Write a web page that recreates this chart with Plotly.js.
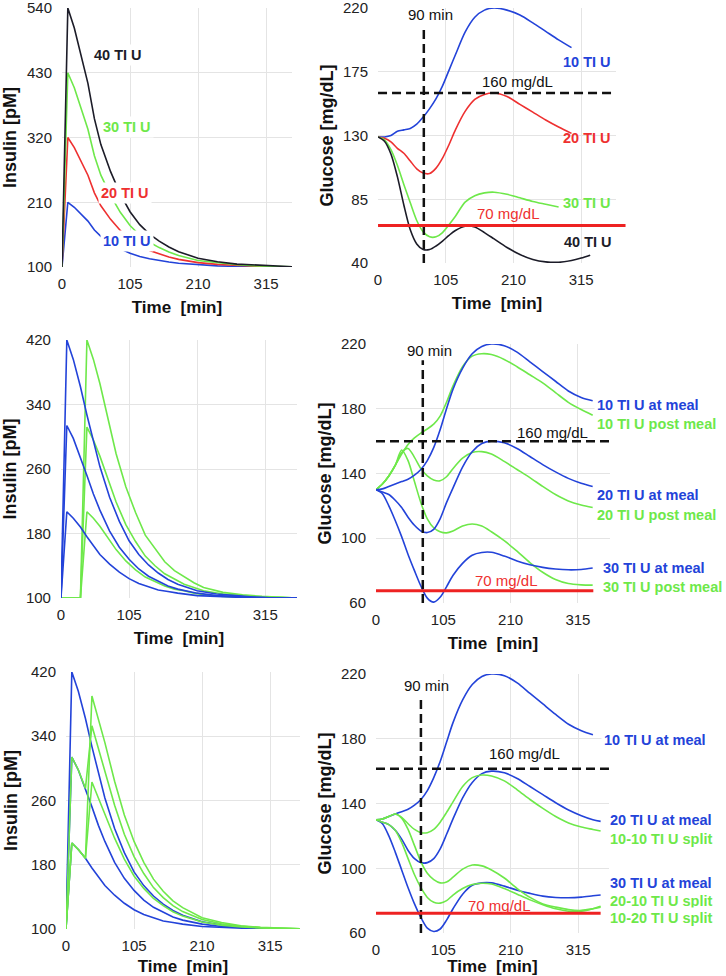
<!DOCTYPE html>
<html>
<head>
<meta charset="utf-8">
<script src="https://cdn.plot.ly/plotly-3.0.1.min.js"></script>
<style>
  html, body { margin: 0; padding: 0; background: #fff; }
  #chart { width: 726px; height: 976px; }
</style>
</head>
<body>
<div id="chart"></div>
<script>
// ---- insulin time grids (min)
var tIns = [0, 9, 19, 30, 40, 50, 60, 75, 90, 105, 120, 135, 150, 165, 180, 210, 240, 270, 300, 330, 365];
var tInsPost = [0, 30, 40, 50, 60, 70, 85, 100, 115, 130, 145, 160, 175, 190, 205, 220, 250, 280, 310, 340, 365];

// row 1 insulin [pM]
var ins10 = [100, 210, 201.5, 189.5, 178, 163, 152, 140.5, 131, 123.5, 118, 114, 111, 108.5, 106.5, 104, 102, 101, 100.5, 100, 100];
var ins20 = [100, 320, 303, 279, 256, 226, 204, 181, 162, 147, 136, 128, 122, 117, 113, 107.5, 104.5, 102.5, 101.5, 100.5, 100];
var ins30 = [100, 430, 404.5, 368.5, 334, 289, 256, 221.5, 193, 170.5, 154, 142, 133, 125.5, 119.5, 111, 107, 104, 102, 101, 100];
var ins40 = [100, 540, 506, 458, 412, 352, 308, 262, 224, 194, 172, 156, 144, 134, 126, 115, 109, 105, 103, 101, 100];

// rows 2-3 insulin, dose at meal
var meal10Ins = [100, 207, 199, 188, 176, 165, 154, 142, 132, 124, 118, 114, 110, 108, 106, 103, 102, 101, 100, 100, 100];
var meal20Ins = [100, 314, 298, 275, 252, 229, 209, 183, 163, 148, 136, 127, 121, 115, 111, 106, 103, 102, 101, 100, 100];
var meal30Ins = [100, 420, 396, 362, 327, 293, 263, 225, 195, 171, 154, 141, 131, 123, 117, 109, 105, 103, 101, 100, 100];
// row 2 insulin, dose post meal (on tInsPost)
var post10Ins = [100, 100, 207, 199, 189, 177, 160, 146, 135, 126, 120, 115, 111, 109, 106, 104, 102, 101, 101, 100, 100];
var post20Ins = [100, 100, 312, 296, 276, 253, 219, 191, 170, 152, 140, 130, 123, 117, 113, 109, 105, 103, 101, 101, 100];
var post30Ins = [100, 100, 420, 396, 366, 330, 279, 238, 206, 178, 161, 145, 134, 126, 119, 113, 107, 104, 102, 101, 100];
// row 3 insulin, split doses (on tIns)
var split1010Ins = [100, 207, 199, 188, 283, 263.5, 243, 213, 187, 166, 150.5, 138, 129, 121.5, 116, 108.7, 104.7, 102.5, 101.3, 100.6, 100];
var split2010Ins = [100, 314, 298, 275, 353, 324, 295, 254, 218, 190, 169, 151.5, 139, 129, 121.6, 111.7, 106.3, 103.3, 101.7, 100.7, 100];
var split1020Ins = [100, 207, 199, 188, 390, 362.5, 332, 284, 242, 209, 183, 162, 147, 135, 126.6, 114, 108, 104, 102, 101, 100];

// ---- glucose [mg/dL]
var tGlu1 = [0, 10, 20, 30, 40, 50, 60, 70, 80, 90, 100, 110, 120, 135, 150, 165, 180, 200, 220, 240, 260, 280, 300, 315, 329];
var glu10 = [129, 129, 130, 133, 134, 135, 138, 143, 149, 156, 165, 176, 187, 203, 213.5, 218.5, 220, 218.5, 215, 209.5, 203.5, 197.5, 192];
var glu20 = [129, 128, 125.5, 121, 117.5, 112, 106.5, 103.5, 103.2, 107, 114, 123.5, 134, 147, 155.5, 159, 160, 157.5, 152, 146.5, 141, 136, 131.5];
var glu30 = [129, 127, 120, 109, 95.5, 82.5, 70, 62, 58.5, 58.5, 61.5, 67, 73, 83, 87.5, 89.5, 90, 88.5, 86, 83.5, 81.5, 79.5];
var glu40 = [129, 126, 117, 101, 81, 63.5, 53.5, 49.5, 49.5, 52, 55.5, 59.5, 63, 66, 65.5, 61.5, 57, 51, 46, 42.5, 40.8, 40.5, 41.8, 43.5, 45.5];

var tGlu2 = [0, 10, 20, 30, 40, 50, 60, 70, 80, 90, 100, 110, 120, 135, 150, 165, 180, 200, 220, 240, 260, 280, 300, 320, 338];
var meal10Glu = [130, 130.5, 132, 133.5, 135, 136.5, 139, 142.5, 148, 156, 167, 180, 192, 205, 214, 218.5, 220, 219, 215, 209, 203, 197, 191, 187, 185];
var post10Glu = [130, 133.5, 138.5, 145, 152, 158, 162, 165, 167.5, 170.5, 175.5, 184, 194, 206, 212.5, 214, 213.5, 210.5, 206, 201, 196, 190, 184, 179.5, 176];
var meal20Glu = [130, 128.5, 127, 123.5, 119, 113, 108, 104.5, 103.5, 105.5, 112, 122, 131, 144, 153.5, 158.5, 160, 159, 155.5, 150.5, 145.5, 141, 137, 134, 132];
var post20Glu = [130, 133.5, 138.5, 145, 153, 155.5, 150, 143, 138.5, 136, 135.5, 138, 143, 149.5, 153, 153.5, 152, 147.5, 142.5, 137.5, 132, 127, 123, 120.5, 119];
var meal30Glu = [130, 127.5, 120, 111, 101, 90, 80, 70.5, 63, 60.5, 63.5, 70, 77, 84.5, 89.5, 91.2, 91.3, 89, 86, 83.6, 82, 81, 80.5, 80.7, 81.6];
var post30Glu = [130, 133.5, 138.5, 145, 154.5, 148, 135, 122, 112, 106.5, 104, 103.3, 104.5, 107.5, 108.8, 107.5, 104, 98.5, 92, 85, 79, 74.5, 72, 71.2, 71];

var tGlu3 = [0, 10, 20, 30, 40, 50, 60, 70, 80, 90, 100, 110, 120, 135, 150, 165, 180, 200, 220, 240, 260, 280, 300, 320, 338, 350];
var meal10GluB = [130, 130.5, 132, 133.5, 135, 136.5, 139, 142.5, 148, 156, 166, 178, 190, 204, 213.5, 218.5, 220, 219, 214.5, 208, 201.5, 195, 189, 185, 182.5];
var meal20GluB = [130, 128.5, 127, 123.5, 118, 111, 106, 103.5, 103.5, 106, 112, 121, 130.5, 143.5, 153, 158.5, 160, 159, 155.5, 150.5, 145.5, 140.5, 136, 132.5, 130, 129];
var meal30GluB = [130, 127.5, 120, 110, 99, 88, 78, 69.5, 63, 61, 62.5, 68, 75, 84, 89.5, 91, 91, 89, 86.5, 84.5, 82.8, 82, 81.8, 82.2, 83, 83.5];
var split1010Glu = [130, 130.5, 132, 133.5, 131.5, 127.5, 124, 122, 122, 124, 128.5, 134.5, 141, 150.5, 156, 157.6, 157, 154, 148.5, 142.5, 137, 132, 128, 125.5, 124, 123];
var split2010Glu = [130, 128.5, 127, 123.5, 116, 106, 96, 88, 82, 79, 78.5, 80, 83.5, 87.5, 90, 90.8, 90.3, 87.5, 84, 80.5, 77.5, 75, 73.5, 73.5, 75, 76.5];
var split1020Glu = [130, 130.5, 132, 133.5, 131, 124, 114, 104, 97, 93, 91, 91.5, 94.5, 99.5, 102, 101.5, 99, 94, 87.5, 82, 78, 76, 74.5, 74, 75, 76];

var xTicks = [0, 105, 210, 315];

var BLUE = '#2343d9', GREEN = '#6ee84a', RED = '#ee3030', BLACK = '#1c1c28';
var FONT = 'Liberation Sans, Arial, Helvetica, sans-serif';

function line(x, y, color, n, spline) {
  return {
    x: x.slice(0, y.length), y: y, xaxis: 'x' + n, yaxis: 'y' + n,
    type: 'scatter', mode: 'lines', hoverinfo: 'skip',
    line: {color: color, width: 1.6, shape: spline ? 'spline' : 'linear', smoothing: 0.8}
  };
}

var data = [
  line(tIns, ins10, BLUE, 1), line(tIns, ins20, RED, 1), line(tIns, ins30, GREEN, 1), line(tIns, ins40, BLACK, 1),
  line(tGlu1, glu10, BLUE, 2, true), line(tGlu1, glu20, RED, 2, true), line(tGlu1, glu30, GREEN, 2, true), line(tGlu1, glu40, BLACK, 2, true),
  line(tInsPost, post10Ins, GREEN, 3), line(tInsPost, post20Ins, GREEN, 3), line(tInsPost, post30Ins, GREEN, 3),
  line(tIns, meal10Ins, BLUE, 3), line(tIns, meal20Ins, BLUE, 3), line(tIns, meal30Ins, BLUE, 3),
  line(tGlu2, post10Glu, GREEN, 4, true), line(tGlu2, post20Glu, GREEN, 4, true), line(tGlu2, post30Glu, GREEN, 4, true),
  line(tGlu2, meal10Glu, BLUE, 4, true), line(tGlu2, meal20Glu, BLUE, 4, true), line(tGlu2, meal30Glu, BLUE, 4, true),
  line(tIns, meal10Ins, BLUE, 5), line(tIns, meal20Ins, BLUE, 5), line(tIns, meal30Ins, BLUE, 5),
  line(tIns, split1010Ins, GREEN, 5), line(tIns, split2010Ins, GREEN, 5), line(tIns, split1020Ins, GREEN, 5),
  line(tGlu3, meal10GluB, BLUE, 6, true), line(tGlu3, meal20GluB, BLUE, 6, true), line(tGlu3, meal30GluB, BLUE, 6, true),
  line(tGlu3, split1010Glu, GREEN, 6, true), line(tGlu3, split2010Glu, GREEN, 6, true), line(tGlu3, split1020Glu, GREEN, 6, true)
];

function xAxis(dom, max, n) {
  return {
    domain: dom, range: [0, max], anchor: 'y' + n, tickvals: xTicks,
    showgrid: true, gridcolor: '#e4e4e4', zeroline: false, showline: false, ticks: '',
    tickfont: {size: 15, color: '#222'}, ticklabelstandoff: 6, ticklabeloverflow: 'allow',
    automargin: false, fixedrange: true,
    title: {text: 'Time\u00a0 [min]', standoff: 10, font: {size: 17, weight: 'bold', color: '#111'}}
  };
}
function yAxis(dom, range, ticks, title, n, standoff) {
  return {
    domain: dom, range: range, anchor: 'x' + n, tickvals: ticks,
    showgrid: true, gridcolor: '#e4e4e4', zeroline: false, showline: false, ticks: '',
    tickfont: {size: 15, color: '#222'}, ticklabelstandoff: 9, ticklabeloverflow: 'allow',
    automargin: false, fixedrange: true,
    title: {text: title, standoff: standoff, font: {size: 18, weight: 'bold', color: '#111'}}
  };
}

var insTicks1 = [100, 210, 320, 430, 540];
var insTicks = [100, 180, 260, 340, 420];
var gluTicks1 = [40, 85, 130, 175, 220];
var gluTicks = [60, 100, 140, 180, 220];

var dash = {color: '#111', width: 2.5, dash: '9px,5px'};
var redLine = {color: '#ee2222', width: 3};

function ann(n, x, y, text, color, bold, anchor, bg) {
  return {
    xref: 'x' + n, yref: 'y' + n, x: x, y: y, text: text, showarrow: false,
    xanchor: anchor || 'center', yanchor: 'middle',
    bgcolor: bg ? '#fff' : 'rgba(0,0,0,0)', borderpad: bg ? 2 : 0,
    font: {family: FONT, size: bold ? 14.5 : 15, color: color, weight: bold ? 'bold' : 'normal'}
  };
}

var annotations = [
  ann(1, 86, 460, '40 TI U', BLACK, true, 'center', true),
  ann(1, 100, 338, '30 TI U', GREEN, true, 'center', true),
  ann(1, 97, 226, '20 TI U', RED, true, 'center', true),
  ann(1, 100, 144, '10 TI U', BLUE, true, 'center', true),

  ann(2, 81, 215.5, '90 min', '#111'),
  ann(2, 216, 168.4, '160 mg/dL', '#111'),
  ann(2, 202, 75, '70 mg/dL', RED),
  ann(2, 324, 182, '10 TI U', BLUE, true),
  ann(2, 324, 128, '20 TI U', RED, true),
  ann(2, 324, 82.6, '30 TI U', GREEN, true),
  ann(2, 326, 54.7, '40 TI U', BLACK, true),

  ann(4, 84, 216, '90 min', '#111'),
  ann(4, 276, 165.6, '160 mg/dL', '#111'),
  ann(4, 204, 73.6, '70 mg/dL', RED),
  ann(4, 340, 182.3, '10 TI U at meal', BLUE, true, 'left', true),
  ann(4, 340, 170.6, '10 TI U post meal', GREEN, true, 'left', true),
  ann(4, 340, 126.7, '20 TI U at meal', BLUE, true, 'left', true),
  ann(4, 340, 114.4, '20 TI U post meal', GREEN, true, 'left', true),
  ann(4, 349, 81.6, '30 TI U at meal', BLUE, true, 'left', true),
  ann(4, 349, 69.9, '30 TI U post meal', GREEN, true, 'left', true),

  ann(6, 79, 213, '90 min', '#111'),
  ann(6, 232, 171, '160 mg/dL', '#111'),
  ann(6, 193, 77.3, '70 mg/dL', RED),
  ann(6, 351, 179.2, '10 TI U at meal', BLUE, true, 'left', true),
  ann(6, 360, 129.8, '20 TI U at meal', BLUE, true, 'left', true),
  ann(6, 360, 118, '10-10 TI U split', GREEN, true, 'left', true),
  ann(6, 360, 90.9, '30 TI U at meal', BLUE, true, 'left', true),
  ann(6, 360, 80, '20-10 TI U split', GREEN, true, 'left', true),
  ann(6, 360, 69.3, '10-20 TI U split', GREEN, true, 'left', true)
];

var shapes = [
  {type: 'line', xref: 'x2', yref: 'y2', x0: 71, x1: 71, y0: 40, y1: 206, line: dash},
  {type: 'line', xref: 'x2', yref: 'y2', x0: 0, x1: 369, y0: 160, y1: 160, line: dash},
  {type: 'line', xref: 'x2 domain', yref: 'y2', x0: 0, x1: 1.04, y0: 66.5, y1: 66.5, line: redLine},

  {type: 'line', xref: 'x4', yref: 'y4', x0: 73, x1: 73, y0: 60, y1: 210, line: dash},
  {type: 'line', xref: 'x4', yref: 'y4', x0: 0, x1: 365, y0: 160, y1: 160, line: dash},
  {type: 'line', xref: 'x4', yref: 'y4', x0: 0, x1: 339, y0: 67.6, y1: 67.6, line: redLine},

  {type: 'line', xref: 'x6', yref: 'y6', x0: 70, x1: 70, y0: 60, y1: 204.5, line: dash},
  {type: 'line', xref: 'x6', yref: 'y6', x0: 0, x1: 363, y0: 161.5, y1: 161.5, line: dash},
  {type: 'line', xref: 'x6', yref: 'y6', x0: 0, x1: 350, y0: 72.3, y1: 72.3, line: redLine}
];

var layout = {
  width: 726, height: 976,
  margin: {l: 0, r: 0, t: 0, b: 0},
  paper_bgcolor: '#fff', plot_bgcolor: '#fff',
  showlegend: false,
  font: {family: FONT, color: '#222'},
  xaxis: xAxis([0.0854, 0.4022], 355, 1),
  yaxis: yAxis([0.7264, 0.9918], [100, 540], insTicks1, 'Insulin [pM]', 1, 8),
  xaxis2: xAxis([0.5207, 0.8485], 369, 2),
  yaxis2: yAxis([0.7305, 0.9918], [40, 220], gluTicks1, 'Glucose [mg/dL]', 2, 4),
  xaxis3: xAxis([0.0840, 0.4091], 364, 3),
  yaxis3: yAxis([0.3873, 0.6516], [100, 420], insTicks, 'Insulin [pM]', 3, 8),
  xaxis4: xAxis([0.5179, 0.8402], 365, 4),
  yaxis4: yAxis([0.3822, 0.6475], [60, 220], gluTicks, 'Glucose [mg/dL]', 4, 4),
  xaxis5: xAxis([0.0909, 0.4132], 361, 5),
  yaxis5: yAxis([0.0482, 0.3115], [100, 420], insTicks, 'Insulin [pM]', 5, 8),
  xaxis6: xAxis([0.5179, 0.8388], 363, 6),
  yaxis6: yAxis([0.0440, 0.3094], [60, 220], gluTicks, 'Glucose [mg/dL]', 6, 4),
  annotations: annotations,
  shapes: shapes
};

Plotly.newPlot('chart', data, layout, {displayModeBar: false, staticPlot: true});
</script>
</body>
</html>
